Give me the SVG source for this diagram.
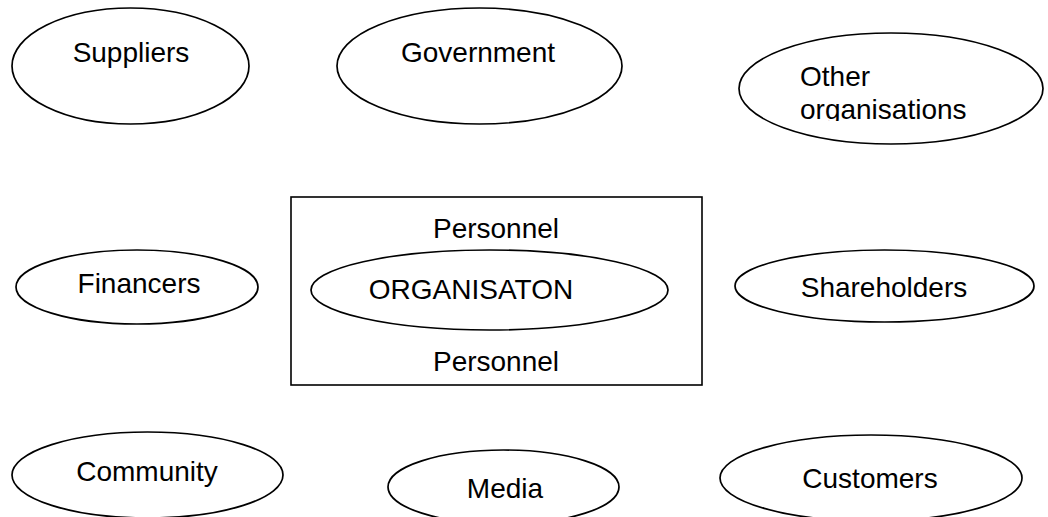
<svg xmlns="http://www.w3.org/2000/svg" width="1048" height="517" viewBox="0 0 1048 517">
<style>
.e{fill:#fff;stroke:#000;stroke-width:1.7}
.r{fill:#fff;stroke:#000;stroke-width:1.6}
.t{font-family:"Liberation Sans",Arial,sans-serif;font-size:28px;fill:#000;text-anchor:middle}
.l{text-anchor:start}
</style>
<defs>
<clipPath id="clipOther"><rect x="740" y="30" width="305" height="91"/></clipPath>
</defs>
<rect width="1048" height="517" fill="#fff"/>
<g id="connectors"/>
<g id="suppliers"><ellipse class="e" cx="130.5" cy="66" rx="118.5" ry="58"/><text class="t" x="131" y="62">Suppliers</text></g>
<g id="government"><ellipse class="e" cx="479.5" cy="66" rx="142.5" ry="58"/><text class="t" x="478" y="62">Government</text></g>
<g id="other-organisations"><ellipse class="e" cx="891" cy="88.5" rx="152" ry="55.5"/><text class="t l" clip-path="url(#clipOther)"><tspan x="800" y="86">Other</tspan><tspan x="800" y="119">organisations</tspan></text></g>
<g id="financers"><ellipse class="e" cx="137" cy="287" rx="121" ry="37"/><text class="t" x="139" y="293">Financers</text></g>
<g id="organisation"><rect class="r" x="291" y="197" width="411" height="188"/><text class="t" x="496" y="238">Personnel</text><ellipse class="e" cx="489.5" cy="290" rx="178.5" ry="40"/><text class="t" x="471" y="299">ORGANISATON</text><text class="t" x="496" y="371">Personnel</text></g>
<g id="shareholders"><ellipse class="e" cx="884.5" cy="286" rx="149.5" ry="36"/><text class="t" x="884" y="297">Shareholders</text></g>
<g id="community"><ellipse class="e" cx="147.5" cy="475" rx="135.5" ry="43"/><text class="t" x="147" y="481">Community</text></g>
<g id="media"><ellipse class="e" cx="503.5" cy="487" rx="115.5" ry="37"/><text class="t" x="505" y="498">Media</text></g>
<g id="customers"><ellipse class="e" cx="871" cy="478" rx="151" ry="43"/><text class="t" x="870" y="488">Customers</text></g>
</svg>
